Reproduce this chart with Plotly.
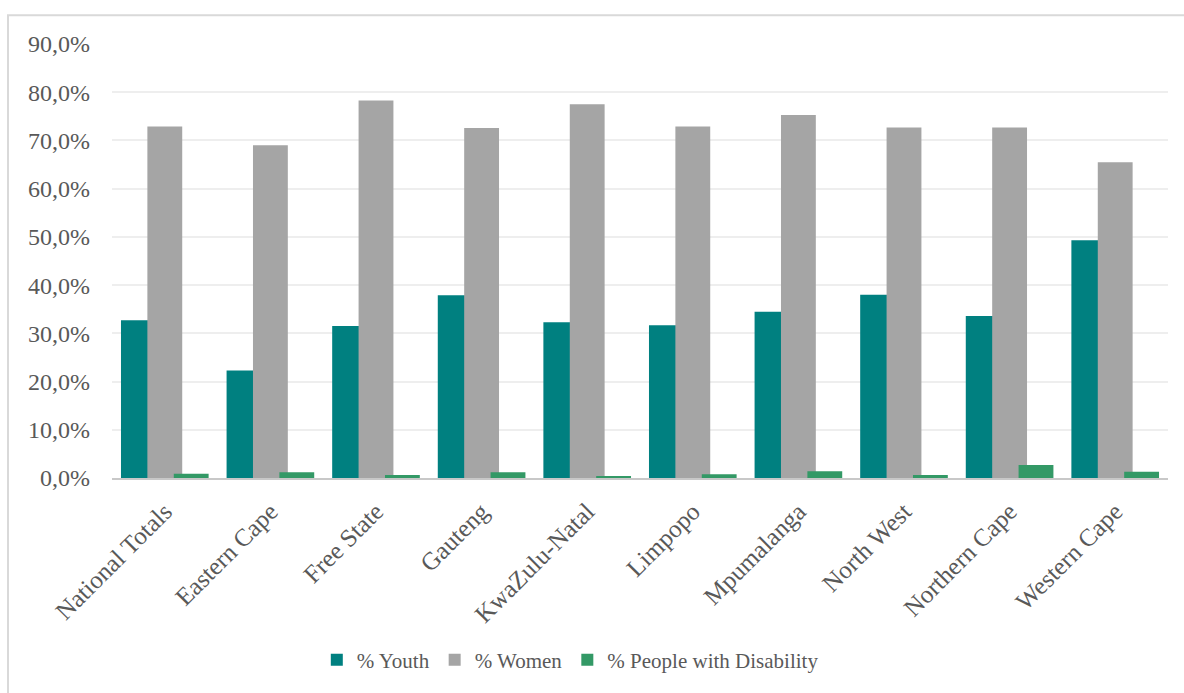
import plotly.graph_objects as go

categories = ["National Totals", "Eastern Cape", "Free State", "Gauteng", "KwaZulu-Natal",
              "Limpopo", "Mpumalanga", "North West", "Northern Cape", "Western Cape"]
youth = [32.7, 22.3, 31.5, 37.9, 32.3, 31.7, 34.5, 38.0, 33.6, 49.3]
women = [72.9, 69.0, 78.3, 72.6, 77.5, 72.9, 75.3, 72.7, 72.7, 65.5]
disability = [0.9, 1.2, 0.6, 1.2, 0.4, 0.8, 1.4, 0.6, 2.7, 1.3]
series_names = ["% Youth", "% Women", "% People with Disability"]
y_tick_vals = [0, 10, 20, 30, 40, 50, 60, 70, 80, 90]
y_tick_text = ["0,0%", "10,0%", "20,0%", "30,0%", "40,0%", "50,0%", "60,0%", "70,0%", "80,0%", "90,0%"]

colors = ["#008080", "#A5A5A5", "#339966"]
offsets = [-0.415, -0.165, 0.085]
bar_w = 0.33

FONT = "Liberation Serif"
TXT = "#595959"

fig = go.Figure()
for name, vals, col, off in zip(series_names, [youth, women, disability], colors, offsets):
    fig.add_trace(go.Bar(
        x=categories, y=vals, name=name,
        marker=dict(color=col, line=dict(width=0)),
        width=bar_w, offset=off,
    ))

L, R, T, B = 112, 16, 44, 211.5
W, H = 1184, 693
pw = W - L - R
ph = H - T - B

fig.update_layout(
    width=W, height=H,
    margin=dict(l=L, r=R, t=T, b=B, pad=0),
    barmode="overlay",
    plot_bgcolor="white", paper_bgcolor="white",
    font=dict(family=FONT, color=TXT, size=21),
    showlegend=True,
    legend=dict(
        orientation="h", x=0.434, xanchor="center", y=(481.5 - 665) / ph, yanchor="middle",
        font=dict(family=FONT, size=21, color=TXT),
        itemsizing="constant", traceorder="normal", itemwidth=30,
    ),
    xaxis=dict(
        type="category", showgrid=False, showline=True, linecolor="#c8c8c8", linewidth=2,
        tickangle=-45, tickfont=dict(family=FONT, size=25, color=TXT),
        ticks="", ticklabelstandoff=7, range=[-0.5, 9.5],
    ),
    yaxis=dict(
        range=[0, 90], tickvals=y_tick_vals, ticktext=y_tick_text,
        showgrid=True, gridcolor="#eeeeee", gridwidth=1.5, zeroline=False,
        tickfont=dict(family=FONT, size=24, color=TXT), ticks="", ticklabelstandoff=21,
        showline=False,
    ),
    shapes=[dict(
        type="rect", xref="paper", yref="paper",
        x0=(8 - L) / pw, x1=(W + 20 - L) / pw,
        y0=(481.5 - (H + 20)) / ph, y1=(481.5 - 15) / ph,
        line=dict(color="#d9d9d9", width=2), fillcolor="rgba(0,0,0,0)", layer="below",
    )],
)

fig.write_html("out.html")
